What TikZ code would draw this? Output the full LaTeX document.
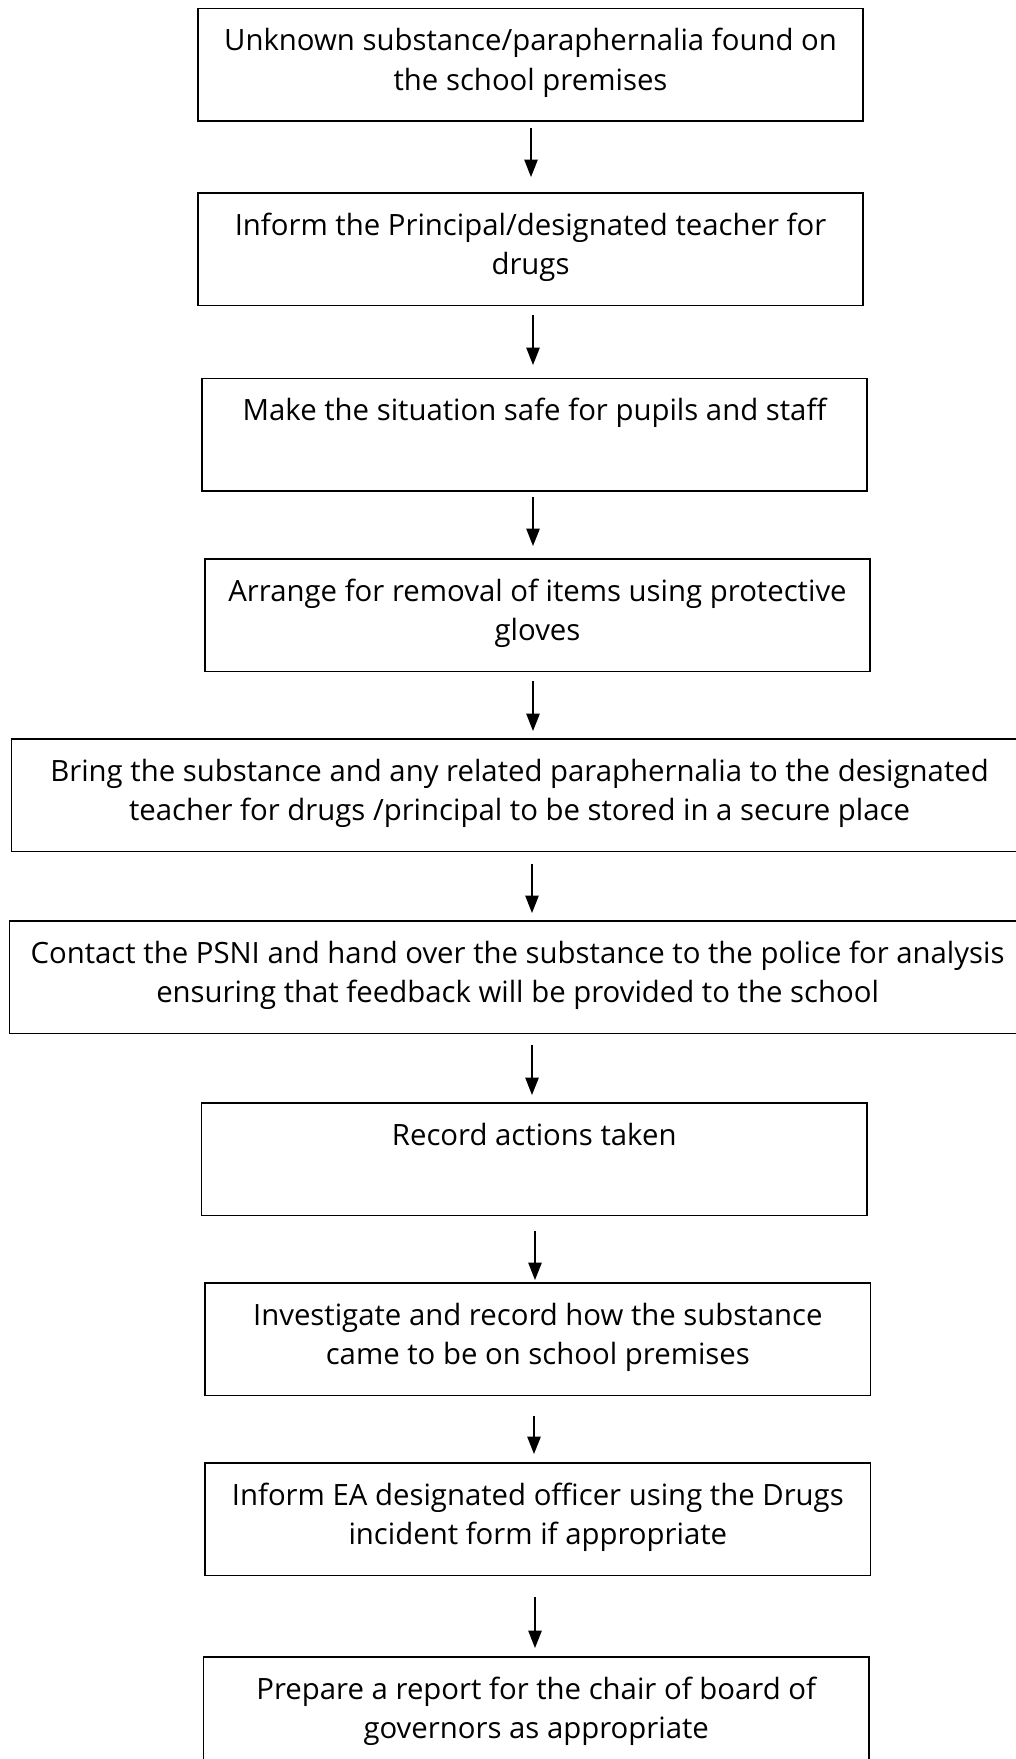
\documentclass[tikz,border=0pt]{standalone}
\usepackage{fontspec}
\setmainfont{Open Sans}
\usetikzlibrary{arrows.meta}
\begin{document}
\begin{tikzpicture}[x=0.75pt,y=-0.75pt,
  flowbox/.style={draw=black, line width=1.3pt, inner sep=0pt, anchor=north west, minimum height=84.4pt},
  narrow/.style={minimum width=499pt},
  wide/.style={minimum width=762pt},
  steptext/.style={anchor=north, inner sep=0pt, align=center, font=\fontsize{22}{29.5}\selectfont},
  flowarrow/.style={line width=1.1pt, -{Triangle[width=10pt,length=13pt]}}]
\useasboundingbox (0,0) rectangle (1016,1759);
\clip (0,0) rectangle (1016,1759);
% boxes
\node[flowbox,narrow] (b1) at (197,7.7) {};
\node[flowbox,narrow] (b2) at (197,192) {};
\node[flowbox,narrow] (b3) at (201,377.6) {};
\node[flowbox,narrow] (b4) at (204,558) {};
\node[flowbox,wide] (b5) at (10.7,738) {};
\node[flowbox,wide] (b6) at (8.7,920) {};
\node[flowbox,narrow] (b7) at (200.7,1102) {};
\node[flowbox,narrow] (b8) at (204.3,1282) {};
\node[flowbox,narrow] (b9) at (204.3,1462) {};
\node[flowbox,narrow,minimum height=90pt] (b10) at (202.7,1656) {};
% texts
\node[steptext] (t1) at ([yshift=-8.25pt]b1.north) {\rule{0pt}{24pt}Unknown substance/paraphernalia found on\\the school premises};
\node[steptext] (t2) at ([yshift=-8.25pt]b2.north) {\rule{0pt}{24pt}Inform the Principal/designated teacher for\\drugs};
\node[steptext] (t3) at ([yshift=-8.25pt]b3.north) {\rule{0pt}{24pt}Make the situation safe for pupils and staff};
\node[steptext] (t4) at ([yshift=-8.25pt]b4.north) {\rule{0pt}{24pt}Arrange for removal of items using protective\\gloves};
\node[steptext] (t5) at ([yshift=-8.25pt]b5.north) {\rule{0pt}{24pt}Bring the substance and any related paraphernalia to the designated\\teacher for drugs /principal to be stored in a secure place};
\node[steptext] (t6) at ([yshift=-8.25pt]b6.north) {\rule{0pt}{24pt}Contact the PSNI and hand over the substance to the police for analysis\\ensuring that feedback will be provided to the school};
\node[steptext] (t7) at ([yshift=-8.25pt]b7.north) {\rule{0pt}{24pt}Record actions taken};
\node[steptext] (t8) at ([yshift=-8.25pt]b8.north) {\rule{0pt}{24pt}Investigate and record how the substance\\came to be on school premises};
\node[steptext] (t9) at ([yshift=-8.25pt]b9.north) {\rule{0pt}{24pt}Inform EA designated officer using the Drugs\\incident form if appropriate};
\node[steptext] (t10) at ([yshift=-8.25pt]b10.north) {\rule{0pt}{24pt}Prepare a report for the chair of board of\\governors as appropriate};
% arrows
\draw[flowarrow, shorten <=4.5pt, shorten >=11.25pt] (531,0 |- b1.south) -- (531,0 |- b2.north);
\draw[flowarrow, shorten <=6.75pt, shorten >=9.45pt] (533,0 |- b2.south) -- (533,0 |- b3.north);
\draw[flowarrow, shorten <=3.75pt, shorten >=9pt] (533,0 |- b3.south) -- (533,0 |- b4.north);
\draw[flowarrow, shorten <=6.75pt, shorten >=5.25pt] (533,0 |- b4.south) -- (533,0 |- b5.north);
\draw[flowarrow, shorten <=9pt, shorten >=5.25pt] (532,0 |- b5.south) -- (532,0 |- b6.north);
\draw[flowarrow, shorten <=7.8pt, shorten >=5.25pt] (532,0 |- b6.south) -- (532,0 |- b7.north);
\draw[flowarrow, shorten <=10.8pt, shorten >=1.5pt] (535,0 |- b7.south) -- (535,0 |- b8.north);
\draw[flowarrow, shorten <=14.6pt, shorten >=6pt] (534,0 |- b8.south) -- (534,0 |- b9.north);
\draw[flowarrow, shorten <=15.75pt, shorten >=6pt] (535,0 |- b9.south) -- (535,0 |- b10.north);
\end{tikzpicture}
\end{document}
